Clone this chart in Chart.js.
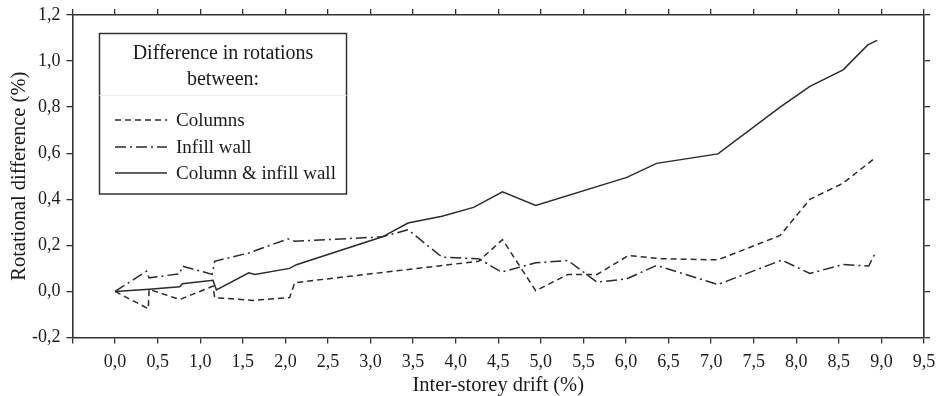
<!DOCTYPE html>
<html>
<head>
<meta charset="utf-8">
<script src="https://cdn.jsdelivr.net/npm/chart.js@4/dist/chart.umd.min.js"></script>
<style>
  html, body { margin: 0; padding: 0; background: #fff; }
  #wrap { width: 938px; height: 396px; }
</style>
</head>
<body>
<div id="wrap"><canvas id="c" width="938" height="396"></canvas></div>
<script>
// ---- Data ----
const seriesNames = ["Columns", "Infill wall", "Column & infill wall"];

const columnsX = [0, 0.39, 0.40, 0.76, 1.15, 1.17, 1.62, 2.05, 2.11, 4.27, 4.55, 4.94, 5.32, 5.66, 6.03, 6.40, 7.08, 7.81, 8.16, 8.55, 8.90];
const columnsY = [0, -0.075, 0.009, -0.035, 0.023, -0.027, -0.039, -0.027, 0.038, 0.131, 0.225, 0.003, 0.074, 0.074, 0.156, 0.142, 0.137, 0.243, 0.400, 0.470, 0.572];

const infillX = [0, 0.37, 0.40, 0.76, 0.79, 1.14, 1.17, 1.57, 2.03, 2.11, 3.14, 3.44, 3.84, 4.27, 4.54, 4.94, 5.32, 5.66, 6.01, 6.36, 7.08, 7.83, 8.16, 8.55, 8.85, 8.94];
const infillY = [0, 0.088, 0.059, 0.077, 0.110, 0.074, 0.131, 0.167, 0.228, 0.218, 0.237, 0.268, 0.149, 0.142, 0.084, 0.124, 0.134, 0.040, 0.055, 0.113, 0.030, 0.136, 0.078, 0.117, 0.110, 0.175];

const bothX = [0, 0.40, 0.76, 0.79, 1.15, 1.19, 1.57, 1.64, 2.05, 2.13, 3.14, 3.44, 3.84, 4.21, 4.55, 4.94, 6.01, 6.36, 7.08, 7.81, 8.16, 8.55, 8.84, 8.95];
const bothY = [0, 0.009, 0.020, 0.033, 0.048, 0.007, 0.081, 0.074, 0.100, 0.116, 0.237, 0.297, 0.326, 0.365, 0.432, 0.373, 0.495, 0.556, 0.597, 0.800, 0.890, 0.962, 1.070, 1.090];

const legendTitle = ["Difference in rotations", "between:"];
const xTitle = "Inter-storey drift (%)";
const yTitle = "Rotational difference (%)";

// ---- Styling ----
const INK = '#2b2b2b';
const AXIS = '#333333';
const FONT = '"Liberation Serif", "Times New Roman", serif';
const dashes = [[6, 4], [11, 4, 2, 4], []];

function pts(xs, ys) { return xs.map((x, i) => ({ x: x, y: ys[i] })); }
const fmt = v => (Math.round(v * 10) / 10).toFixed(1).replace('.', ',');

const datasets = [
  { label: seriesNames[0], data: pts(columnsX, columnsY), borderDash: dashes[0] },
  { label: seriesNames[1], data: pts(infillX, infillY), borderDash: dashes[1] },
  { label: seriesNames[2], data: pts(bothX, bothY), borderDash: dashes[2] }
].map(d => Object.assign(d, {
  showLine: true, pointRadius: 0, pointHoverRadius: 0,
  borderColor: INK, backgroundColor: INK, borderWidth: 1.5, tension: 0, fill: false
}));

const gridOpts = { drawOnChartArea: false, drawTicks: true, tickLength: 6, color: AXIS, lineWidth: 1.3 };
const borderOpts = { display: true, color: AXIS, width: 1.6 };

const legendPlugin = {
  id: 'boxLegend',
  afterDraw(chart) {
    const ctx = chart.ctx;
    const L = 99.5, T = 33.5, W = 247, H = 160.5;
    ctx.save();
    ctx.fillStyle = '#fff';
    ctx.fillRect(L, T, W, H);
    ctx.strokeStyle = AXIS; ctx.lineWidth = 1.5;
    ctx.strokeRect(L, T, W, H);
    // faint separator
    ctx.strokeStyle = '#ececec'; ctx.lineWidth = 1;
    ctx.beginPath(); ctx.moveTo(L, 95.5); ctx.lineTo(L + W, 95.5); ctx.stroke();
    // title
    ctx.fillStyle = '#1a1a1a';
    ctx.font = '20px ' + FONT;
    ctx.textAlign = 'center'; ctx.textBaseline = 'alphabetic';
    const cx = L + W / 2;
    ctx.fillText(legendTitle[0], cx, 59);
    ctx.fillText(legendTitle[1], cx, 85);
    // items
    ctx.font = '19px ' + FONT;
    ctx.textAlign = 'left'; ctx.textBaseline = 'middle';
    const ys = [120, 147, 173];
    chart.data.datasets.forEach((ds, i) => {
      ctx.strokeStyle = ds.borderColor; ctx.lineWidth = 1.5;
      ctx.setLineDash(ds.borderDash || []);
      ctx.beginPath(); ctx.moveTo(115, ys[i]); ctx.lineTo(167, ys[i]); ctx.stroke();
      ctx.setLineDash([]);
      ctx.fillText(ds.label, 176, ys[i] + 1);
    });
    ctx.restore();
  }
};

new Chart(document.getElementById('c'), {
  type: 'scatter',
  data: { datasets: datasets },
  options: {
    responsive: false,
    animation: false,
    layout: { padding: 0 },
    plugins: { legend: { display: false }, tooltip: { enabled: false } },
    scales: {
      x: {
        type: 'linear', position: 'bottom', min: -0.5, max: 9.5,
        grid: gridOpts, border: borderOpts,
        ticks: { stepSize: 0.5, autoSkip: false, maxRotation: 0, padding: 8, color: '#1a1a1a',
                 font: { family: FONT, size: 18 },
                 callback: v => v < -0.001 ? '' : fmt(v) },
        title: { display: true, text: xTitle, color: '#1a1a1a', padding: 0,
                 font: { family: FONT, size: 20.5, lineHeight: 1 } },
        afterFit: s => { s.height = 58.5; s.paddingLeft = 0; s.paddingRight = 0; }
      },
      x2: {
        type: 'linear', position: 'top', min: -0.5, max: 9.5,
        grid: gridOpts, border: borderOpts,
        ticks: { stepSize: 0.5, autoSkip: false, display: false },
        afterFit: s => { s.height = 15; s.paddingLeft = 0; s.paddingRight = 0; }
      },
      y: {
        type: 'linear', position: 'left', min: -0.2, max: 1.2,
        grid: gridOpts, border: borderOpts,
        ticks: { stepSize: 0.2, padding: 6, color: '#1a1a1a',
                 font: { family: FONT, size: 18 },
                 callback: v => fmt(v) },
        title: { display: true, text: yTitle, color: '#1a1a1a', padding: { top: 9, bottom: 0 },
                 font: { family: FONT, size: 20.5, lineHeight: 1 } },
        afterFit: s => { s.width = 72.5; s.paddingTop = 0; s.paddingBottom = 0; }
      },
      y2: {
        type: 'linear', position: 'right', min: -0.2, max: 1.2,
        grid: gridOpts, border: borderOpts,
        ticks: { stepSize: 0.2, display: false },
        afterFit: s => { s.width = 14; s.paddingTop = 0; s.paddingBottom = 0; }
      }
    }
  },
  plugins: [legendPlugin]
});
</script>
</body>
</html>
